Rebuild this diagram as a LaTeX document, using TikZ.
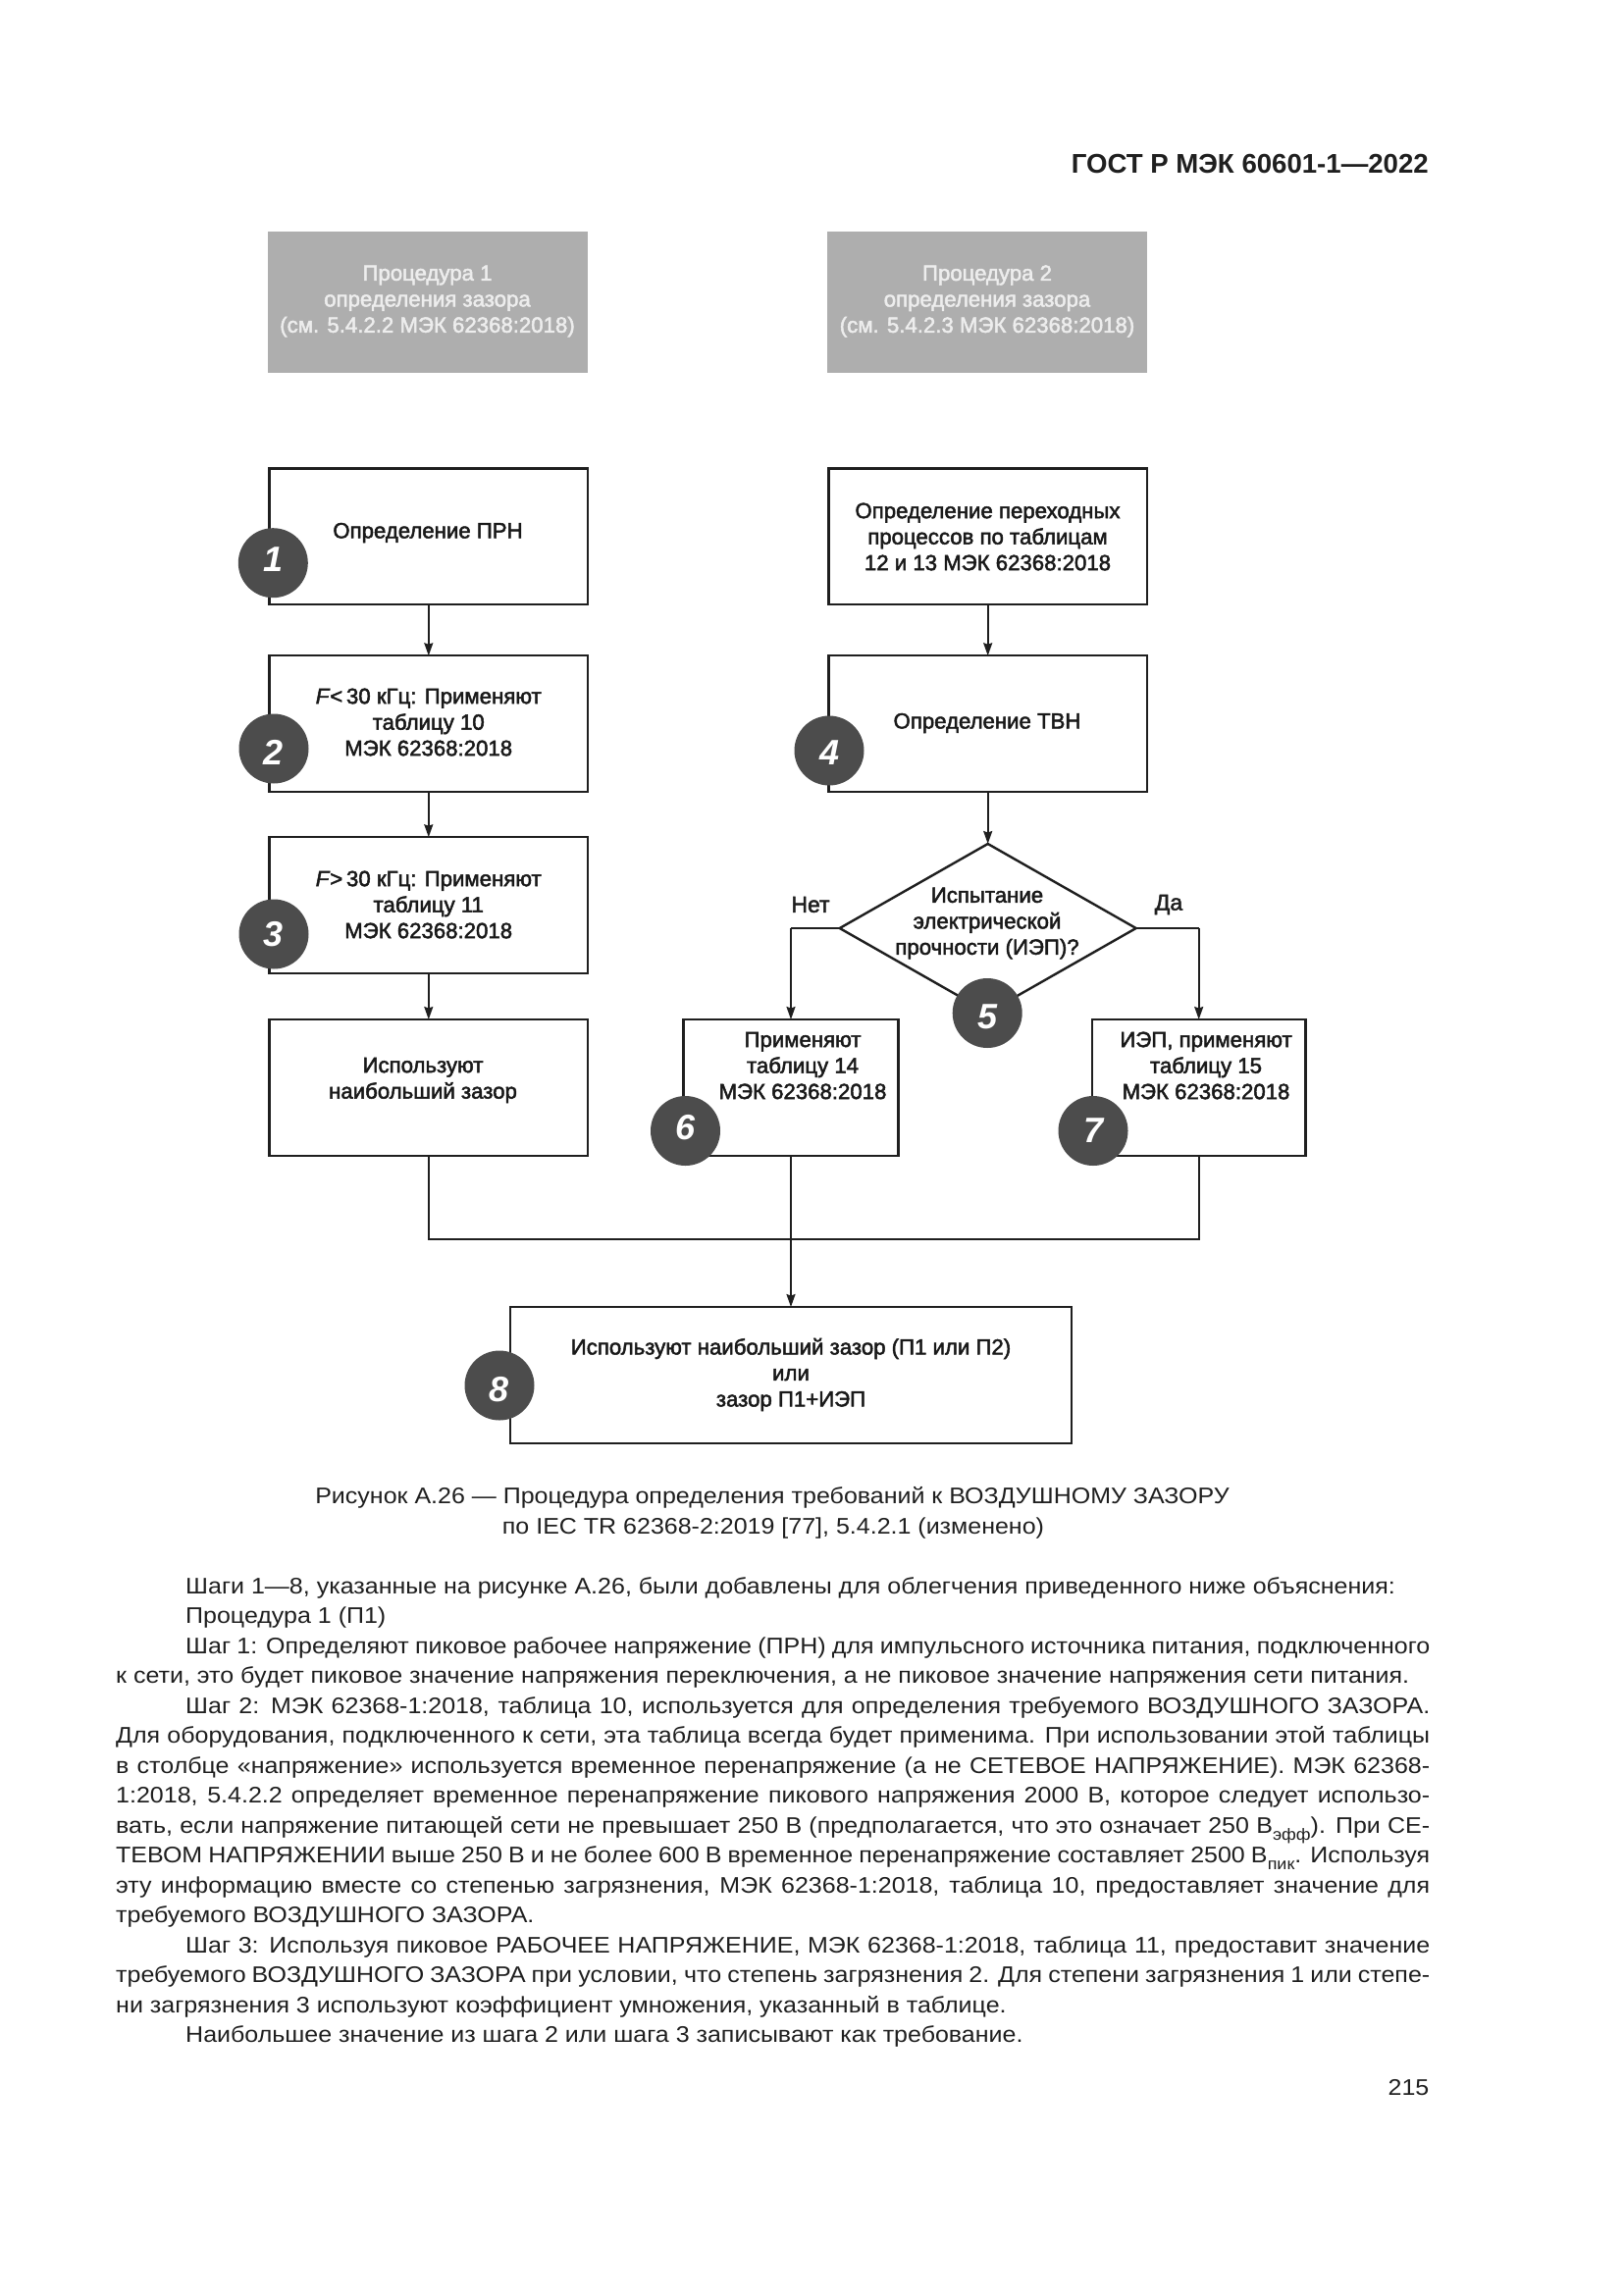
\documentclass[tikz,border=0pt]{standalone}
\usepackage{fontspec}
\setmainfont{Liberation Sans}
\newfontfamily\fb[FakeBold=2.2]{Liberation Sans}
\newfontfamily\bodyf[FakeStretch=1.087]{Liberation Sans}
\usetikzlibrary{arrows.meta,calc,shapes.geometric}
\newcommand{\bodysz}{\bodyf\fontsize{23}{30.5}\selectfont}
\newcommand{\boxsz}{\fb\fontsize{22.2}{26.5}\selectfont}
\newcommand{\lowtxt}[1]{\raisebox{-7pt}{\fontsize{16.5}{18}\selectfont #1}}
\newcommand{\dgt}[2]{\raisebox{#1pt}[0pt][0pt]{#2}}
\definecolor{boxgray}{HTML}{AEAEAE}
\definecolor{graylabel}{HTML}{EDEDED}
\definecolor{numgray}{HTML}{4C4C4C}
\tikzset{
  x=1pt,y=-1pt,
  flowbox/.style={draw=black!88,line width=2.4pt,fill=white,inner sep=0pt,outer sep=0pt},
  graybox/.style={fill=boxgray,inner sep=0pt,outer sep=0pt,minimum width=326.5pt,minimum height=144pt},
  boxtext/.style={inner sep=0pt,align=center,font=\boxsz,text=black!90},
  graytext/.style={inner sep=0pt,align=center,font=\boxsz,text=graylabel},
  num/.style={circle,fill=numgray,minimum size=71pt,inner sep=0pt,text=white,font=\bfseries\itshape\fontsize{36}{36}\selectfont},
  conn/.style={draw=black!88,line width=1.7pt},
  arr/.style={conn,-{Stealth[length=13pt,width=9pt,inset=1.5pt]}},
  thickconn/.style={draw=black!88,line width=2.8pt},
  decision/.style={draw=black!88,line width=2.4pt,fill=white,inner sep=0pt,outer sep=0pt},
  bodyline/.style={inner sep=0pt,anchor=base west,font=\bodysz,text=black!88},
  plainlabel/.style={inner sep=0pt,font=\fb\fontsize{23}{26}\selectfont,text=black!88},
  caption/.style={inner sep=0pt,anchor=base,font=\bodysz,text=black!88},
}
\newcommand{\fl}[1]{\hbox to 1339pt{#1}}
\newcommand{\il}[1]{\hbox to 1268pt{#1}}
\begin{document}
\begin{tikzpicture}
\useasboundingbox (0,0) rectangle (1654,2339);
\fill[white] (0,0) rectangle (1654,2339);
% header
\node[inner sep=0pt,anchor=base east,font=\bfseries\fontsize{27.6}{30}\selectfont,text=black!88] (hdr) at (1456,176) {ГОСТ Р МЭК 60601-1—2022};
% gray heads
\node[graybox] (g1) at (436.2,308) {};
\node[graybox] (g2) at (1006.2,308) {};
\node[graytext] (g1t) at (435.5,307) {Процедура 1\\определения зазора\\(см. 5.4.2.2 МЭК 62368:2018)};
\node[graytext] (g2t) at (1006,307) {Процедура 2\\определения зазора\\(см. 5.4.2.3 МЭК 62368:2018)};
% boxes
\node[flowbox,minimum width=324.5pt,minimum height=138.5pt] (b1) at (436.8,546.8) {};
\node[flowbox,minimum width=324.5pt,minimum height=138.5pt] (b2) at (436.8,737.5) {};
\node[flowbox,minimum width=324.5pt,minimum height=139pt] (b3) at (436.8,922.7) {};
\node[flowbox,minimum width=324.5pt,minimum height=139pt] (b0) at (436.8,1108.5) {};
\node[flowbox,minimum width=324.5pt,minimum height=138.5pt] (r1) at (1006.7,546.8) {};
\node[flowbox,minimum width=324.5pt,minimum height=138.5pt] (b4) at (1006.7,737.5) {};
\node[flowbox,minimum width=219pt,minimum height=139pt] (b6) at (806,1108.5) {};
\node[flowbox,minimum width=217.5pt,minimum height=139pt] (b7) at (1221.7,1108.5) {};
\node[flowbox,minimum width=572pt,minimum height=139pt] (b8) at (806,1401.5) {};
\node[decision,diamond,minimum width=302pt,minimum height=172pt,aspect=1.75] (d5) at (1006.7,946) {};
% coordinates
\coordinate (nt) at (b6.north |- d5.west);
\coordinate (dt) at (b7.north |- d5.east);
\coordinate (merge) at ($(b6.south)+(0,85)$);
% connectors
\draw[arr] (b1.south) -- (b2.north);
\draw[arr] (b2.south) -- (b3.north);
\draw[arr] (b3.south) -- (b0.north);
\draw[arr] (r1.south) -- (b4.north);
\draw[arr] (b4.south) -- (d5.north);
\draw[thickconn] (d5.west) -- (nt);
\draw[thickconn] (d5.east) -- (dt);
\draw[arr] (nt) -- (b6.north);
\draw[arr] (dt) -- (b7.north);
\draw[conn] (b0.south) |- (merge) -| (b7.south);
\draw[arr] (b6.south) -- (b6.south |- b8.north);
% box texts
\node[boxtext] (t1) at (436,543) {Определение ПРН};
\node[boxtext] (t2) at (436.7,736) {\textit{F}<\,30 кГц: Применяют\\таблицу 10\\МЭК 62368:2018};
\node[boxtext] (t3) at (436.7,922) {\textit{F}>\,30 кГц: Применяют\\таблицу 11\\МЭК 62368:2018};
\node[boxtext] (t0) at (431,1101) {Используют\\наибольший зазор};
\node[boxtext] (tr1) at (1006.5,547) {Определение переходных\\процессов по таблицам\\12 и 13 МЭК 62368:2018};
\node[boxtext] (t4) at (1006,737) {Определение ТВН};
\node[boxtext] (td) at (1006,941) {Испытание\\электрической\\прочности (ИЭП)?};
\node[boxtext] (t6) at (818,1086) {Применяют\\таблицу 14\\МЭК 62368:2018};
\node[boxtext] (t7) at (1229,1086) {ИЭП, применяют\\таблицу 15\\МЭК 62368:2018};
\node[boxtext] (t8) at (806,1401) {Используют наибольший зазор (П1 или П2)\\или\\зазор П1+ИЭП};
\node[plainlabel] (no) at (826,922) {Нет};
\node[plainlabel] (yes) at (1191,922) {Да};
% number discs
\node[num] (n1) at (278.3,573.7) {\dgt{-8.4}{1}};
\node[num] (n2) at (279,763) {\dgt{-16.9}{2}};
\node[num] (n3) at (279,952) {\dgt{-12.9}{3}};
\node[num] (n4) at (845,765) {\dgt{-14.9}{4}};
\node[num] (n5) at (1006.2,1032.5) {\dgt{-16.4}{5}};
\node[num] (n6) at (698.5,1152.5) {\dgt{-9.4}{6}};
\node[num] (n7) at (1114,1152.5) {\dgt{-11.9}{7}};
\node[num] (n8) at (509,1412) {\dgt{-16.2}{8}};
% caption
\node[caption] (cap1) at (787,1532) {Рисунок А.26 — Процедура определения требований к ВОЗДУШНОМУ ЗАЗОРУ};
\node[caption] (cap2) at (788,1563) {по IEC TR 62368-2:2019 [77], 5.4.2.1 (изменено)};
% body
\node[bodyline] (l1) at (189,1624) {Шаги 1—8, указанные на рисунке А.26, были добавлены для облегчения приведенного ниже объяснения:};
\node[bodyline] (l2) at (189,1654.5) {Процедура 1 (П1)};
\node[bodyline] (l3) at (189,1685) {\il{Шаг 1: Определяют пиковое рабочее напряжение (ПРН) для импульсного источника питания, подключенного}};
\node[bodyline] (l4) at (118,1715.5) {к сети, это будет пиковое значение напряжения переключения, а не пиковое значение напряжения сети питания.};
\node[bodyline] (l5) at (189,1746) {\il{Шаг 2: МЭК 62368-1:2018, таблица 10, используется для определения требуемого ВОЗДУШНОГО ЗАЗОРА.}};
\node[bodyline] (l6) at (118,1776.5) {\fl{Для оборудования, подключенного к сети, эта таблица всегда будет применима. При использовании этой таблицы}};
\node[bodyline] (l7) at (118,1807) {\fl{в столбце «напряжение» используется временное перенапряжение (а не СЕТЕВОЕ НАПРЯЖЕНИЕ). МЭК 62368-}};
\node[bodyline] (l8) at (118,1837.5) {\fl{1:2018, 5.4.2.2 определяет временное перенапряжение пикового напряжения 2000 В, которое следует использо-}};
\node[bodyline] (l9) at (118,1868) {\fl{вать, если напряжение питающей сети не превышает 250 В (предполагается, что это означает 250 В\lowtxt{эфф}). При СЕ-}};
\node[bodyline] (l10) at (118,1898.5) {\fl{ТЕВОМ НАПРЯЖЕНИИ выше 250 В и не более 600 В временное перенапряжение составляет 2500 В\lowtxt{пик}. Используя}};
\node[bodyline] (l11) at (118,1929) {\fl{эту информацию вместе со степенью загрязнения, МЭК 62368-1:2018, таблица 10, предоставляет значение для}};
\node[bodyline] (l12) at (118,1959.5) {требуемого ВОЗДУШНОГО ЗАЗОРА.};
\node[bodyline] (l13) at (189,1990) {\il{Шаг 3: Используя пиковое РАБОЧЕЕ НАПРЯЖЕНИЕ, МЭК 62368-1:2018, таблица 11, предоставит значение}};
\node[bodyline] (l14) at (118,2020.5) {\fl{требуемого ВОЗДУШНОГО ЗАЗОРА при условии, что степень загрязнения 2. Для степени загрязнения 1 или степе-}};
\node[bodyline] (l15) at (118,2051) {ни загрязнения 3 используют коэффициент умножения, указанный в таблице.};
\node[bodyline] (l16) at (189,2081.5) {Наибольшее значение из шага 2 или шага 3 записывают как требование.};
\node[inner sep=0pt,anchor=base east,font=\bodysz,text=black!88] (pg) at (1456.5,2135) {215};
\end{tikzpicture}
\end{document}
